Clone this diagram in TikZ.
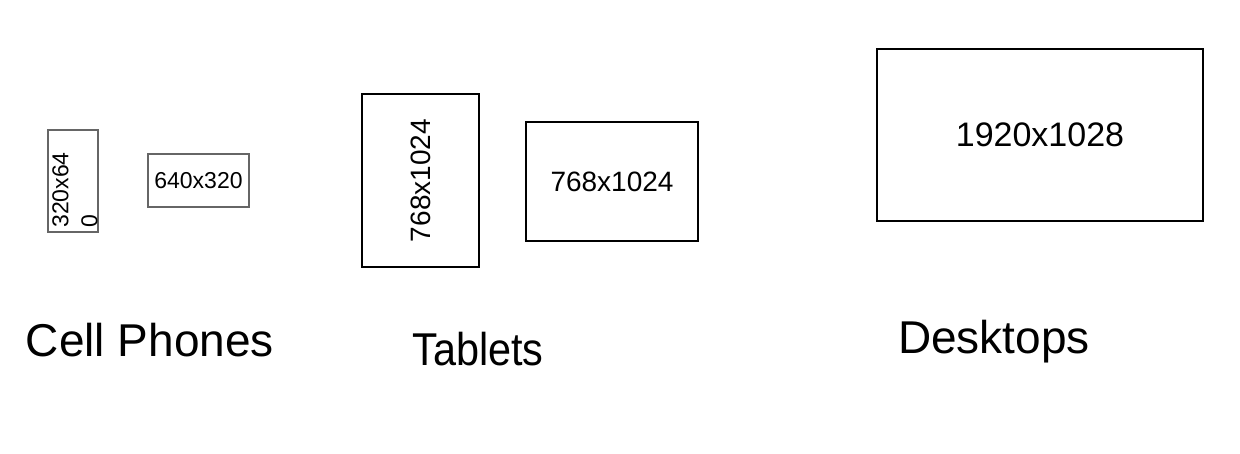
\documentclass[tikz,border=0pt]{standalone}
\usepackage{fontspec}
\setmainfont{Liberation Sans}

\begin{document}
\begin{tikzpicture}[x=1pt,y=-1pt,
    screen/.style={draw,line width=2pt,inner sep=0pt},
    phone/.style={screen,draw=black!60,line width=2.5pt,font=\fontsize{23}{29}\selectfont},
    tablet/.style={screen,font=\fontsize{28}{32}\selectfont},
    caption/.style={anchor=base,inner sep=0pt,font=\fontsize{46}{50}\selectfont}]
    \useasboundingbox (0,0) rectangle (1240,454);
    %cell phones
    \node [phone,minimum width=50,minimum height=102] (phoneA) at (73,181) {};
    \node [rotate=90,align=left,inner sep=0pt,font=\fontsize{23}{29}\selectfont] (phoneAlabel) at (75,190) {320x64\\0};
    \node [phone,minimum width=101,minimum height=53] (phoneB) at (198.5,180.5) {640x320};
    %tablets
    \node [tablet,minimum width=117,minimum height=173] (tabletA) at (420.5,180.5) {};
    \node [rotate=90,inner sep=0pt,font=\fontsize{28}{32}\selectfont] (tabletAlabel) at (tabletA) {768x1024};
    \node [tablet,minimum width=172,minimum height=119] (tabletB) at (612,181.5) {768x1024};
    %desktop
    \node [screen,minimum width=326,minimum height=172,font=\fontsize{34}{40}\selectfont] (desktop) at (1040,135) {1920x1028};
    %captions
    \node [caption] (phones) at (150,356) {Cell Phones};
    \node [caption,xscale=0.9] (tablets) at (478,366) {Tablets};
    \node [caption] (desktops) at (994,353) {Desktops};
\end{tikzpicture}
\end{document}
